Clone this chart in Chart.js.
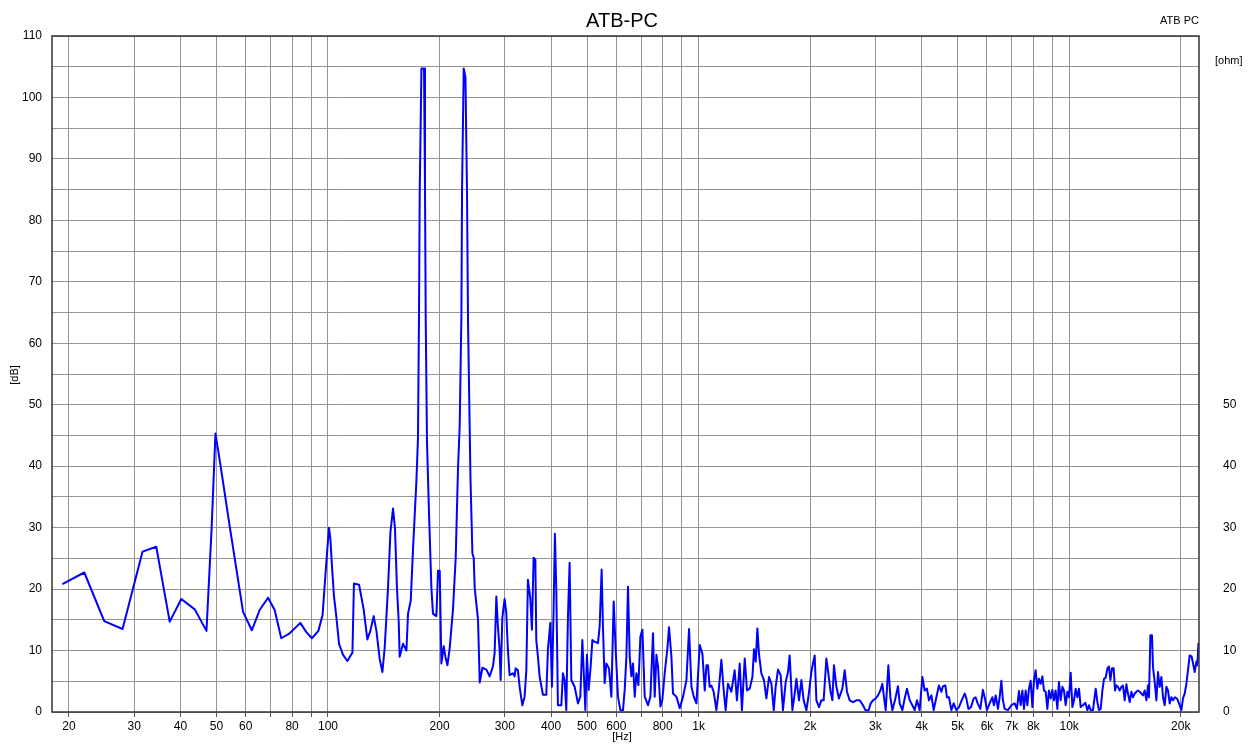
<!DOCTYPE html>
<html>
<head>
<meta charset="utf-8">
<script src="https://cdn.jsdelivr.net/npm/chart.js@4.4.0/dist/chart.umd.min.js"></script>
<style>
  html, body { margin: 0; padding: 0; background: #fff; }
  #wrap { width: 1250px; height: 744px; }
</style>
</head>
<body>
<div id="wrap"><canvas id="spectrum" width="1250" height="744"></canvas></div>
<script>
// frequency (Hz) and level (dB)
const freqHz = [
  19.2, 22.0, 24.9, 27.9, 31.6, 34.4, 37.4, 40.2, 43.7, 47.0, 48.5, 49.7, 50.5, 51.5, 54.3, 59.0,
  62.3, 65.4, 68.9, 71.8, 74.8, 78.8, 84.2, 87.4, 90.5, 94.2, 96.7, 98.6, 100.6, 101.5, 102.5, 103.8,
  105.4, 107.1, 109.8, 112.8, 116.4, 117.5, 121.3, 124.8, 127.7, 130.1, 132.8, 135.1, 137.9, 140.2, 142.2, 145.2,
  147.4, 149.8, 151.6, 153.5, 155.2, 156.1, 159.4, 162.8, 164.4, 167.2, 169.6, 173.2, 174.9, 176.0, 176.8, 178.7,
  181.6, 182.7, 183.5, 185.0, 187.3, 190.1, 192.0, 196.1, 198.1, 200.2, 202.3, 205.2, 207.4, 210.0, 213.0, 217.4,
  221.1, 224.3, 226.7, 229.1, 230.0, 232.4, 234.9, 237.2, 238.7, 242.3, 245.3, 247.3, 248.8, 254.0, 256.7, 261.0,
  267.6, 273.0, 278.6, 281.6, 284.6, 287.4, 290.5, 292.3, 295.4, 299.6, 302.8, 305.8, 309.1, 315.5, 318.8, 320.8,
  325.4, 328.9, 334.5, 339.3, 342.9, 346.3, 351.5, 355.0, 358.8, 362.6, 364.8, 368.5, 372.4, 380.1, 388.2, 392.1,
  398.0, 402.0, 406.2, 409.5, 413.1, 417.3, 426.2, 430.4, 435.0, 439.6, 444.0, 448.7, 453.5, 462.9, 472.6, 479.6,
  485.6, 490.5, 494.8, 499.7, 505.0, 511.4, 516.8, 522.0, 535.1, 540.8, 547.5, 552.0, 557.9, 563.8, 573.0, 581.6,
  590.0, 597.4, 606.0, 615.1, 625.2, 631.8, 638.5, 644.9, 651.8, 658.7, 665.3, 672.4, 679.5, 688.0, 696.6, 705.3,
  715.5, 730.3, 741.3, 753.3, 761.3, 769.4, 777.1, 788.8, 798.6, 810.1, 823.9, 832.1, 844.6, 853.0, 871.2, 889.4,
  907.9, 927.3, 942.4, 956.5, 970.3, 986.7,
  1007, 1024, 1039, 1050, 1060, 1071, 1083, 1098, 1117, 1133, 1152, 1169, 1183, 1200, 1226, 1251,
  1269, 1291, 1309, 1332, 1351, 1374, 1397, 1411, 1426, 1441, 1455, 1477, 1501, 1524, 1549, 1572,
  1595, 1614, 1638, 1665, 1689, 1718, 1743, 1761, 1791, 1817, 1836, 1866, 1894, 1921, 1954, 1978,
  2015, 2035, 2057, 2079, 2113, 2144, 2175, 2212, 2234, 2268, 2296, 2319, 2354, 2392, 2443, 2479,
  2514, 2557, 2610, 2665, 2721, 2777, 2819, 2877, 2913, 2955, 3005, 3048, 3094, 3132, 3164, 3198,
  3251, 3292, 3333, 3388, 3451, 3488, 3547, 3598, 3650, 3712, 3774, 3828, 3884, 3949, 4016, 4074,
  4132, 4184, 4247, 4308, 4381, 4452, 4520, 4565, 4633, 4679, 4738, 4809, 4879, 4961, 5042, 5127,
  5224, 5279, 5345, 5432, 5523, 5592, 5662, 5757, 5851, 5924, 5999,
  6100, 6204, 6265, 6333, 6423, 6492, 6561, 6626, 6697, 6836, 6982, 7126, 7229, 7319, 7397, 7476,
  7550, 7630, 7711, 7788, 7871, 7954, 8034, 8119, 8205, 8287, 8375, 8464, 8549, 8640, 8731, 8819,
  8912, 9007, 9097, 9193, 9291, 9384, 9484, 9585, 9680, 9783, 9887, 9986, 10092, 10200, 10302, 10411,
  10522, 10627, 10740, 10894, 11058, 11196, 11308, 11428, 11592, 11789, 11914, 12033, 12161, 12290, 12413, 12545,
  12678, 12805, 12917, 13046, 13184, 13291, 13407, 13541, 13685, 13830, 13969, 14117, 14267, 14409, 14562, 14717,
  14864, 15022, 15181, 15333, 15496, 15660, 15817, 15985, 16155, 16316, 16418, 16561, 16727, 16831, 17009, 17190,
  17362, 17546, 17732, 17910, 18100, 18292, 18475, 18671, 18869, 19058, 19296, 19537, 19781, 20078, 20279, 20494,
  20712, 20919, 21141, 21405, 21633, 21808, 22040, 22177, 22316, 22399
];
const levelDb = [
  20.8, 22.7, 14.8, 13.5, 26.1, 26.9, 14.7, 18.4, 16.7, 13.2, 29.6, 45.3, 42.7, 39.4, 30.2, 16.3,
  13.3, 16.6, 18.6, 16.6, 12.0, 12.8, 14.5, 13.0, 12.0, 13.2, 15.8, 23.0, 30.0, 28.2, 23.7, 18.8,
  15.3, 11.1, 9.3, 8.3, 9.7, 20.9, 20.7, 16.7, 11.8, 13.2, 15.6, 13.2, 8.6, 6.5, 10.4, 20.2,
  29.3, 33.1, 29.9, 20.2, 14.6, 9.0, 11.1, 10.0, 16.0, 18.1, 26.5, 37.6, 44.6, 64.2, 84.5, 104.7,
  104.7, 85.2, 64.2, 43.9, 32.4, 20.2, 16.0, 15.6, 23.0, 23.0, 7.9, 10.7, 9.0, 7.6, 10.4, 16.7,
  25.1, 39.7, 46.7, 64.9, 85.2, 104.7, 103.3, 84.5, 63.5, 38.3, 25.8, 25.1, 20.2, 15.0, 4.8, 7.2,
  6.9, 5.8, 7.4, 9.6, 18.8, 13.9, 10.1, 5.2, 15.3, 18.4, 16.1, 10.1, 6.0, 6.3, 5.8, 7.1,
  6.8, 4.1, 1.1, 2.5, 6.8, 21.5, 18.5, 13.4, 25.1, 24.8, 11.7, 9.0, 5.8, 2.8, 2.8, 10.1,
  14.5, 4.1, 16.6, 29.0, 19.9, 1.1, 1.1, 6.3, 5.2, 0.3, 15.3, 24.3, 5.2, 4.1, 1.4, 2.5,
  11.7, 5.8, 0.3, 9.3, 3.6, 7.4, 11.7, 11.5, 11.2, 13.9, 23.2, 13.9, 4.7, 7.9, 7.1, 2.5,
  18.0, 10.1, 2.5, 0.3, 0.3, 3.6, 9.0, 20.4, 9.0, 5.8, 7.9, 2.5, 6.3, 4.4, 12.3, 13.4,
  2.5, 1.1, 2.5, 12.8, 2.5, 9.3, 7.4, 0.9, 2.0, 6.3, 10.4, 13.8, 9.0, 3.0, 2.5, 0.6,
  2.5, 5.2, 13.5, 4.1, 2.5, 1.4,
  10.9, 9.5, 3.5, 7.6, 7.6, 4.1, 4.3, 3.3, 0.3, 3.5, 8.5, 3.5, 0.3, 4.6, 3.3, 6.8,
  1.9, 7.9, 0.3, 8.7, 3.5, 3.8, 5.7, 10.2, 8.2, 13.6, 9.5, 6.3, 5.2, 2.2, 5.7, 4.6,
  0.3, 4.1, 6.9, 6.0, 0.3, 4.9, 6.5, 9.2, 0.3, 3.0, 5.4, 1.9, 5.2, 1.9, 0.3, 2.4,
  6.5, 7.9, 9.2, 1.9, 0.8, 1.9, 1.9, 8.7, 6.8, 3.5, 1.9, 7.6, 4.1, 2.2, 3.8, 6.8,
  3.3, 1.9, 1.6, 1.9, 1.9, 1.1, 0.3, 0.3, 1.4, 1.9, 2.2, 2.7, 3.5, 4.6, 2.4, 0.3,
  7.6, 2.4, 0.3, 1.9, 4.2, 1.4, 0.3, 2.2, 3.8, 1.9, 1.1, 0.3, 1.9, 0.3, 5.7, 3.5,
  3.8, 1.9, 2.7, 0.3, 2.4, 4.3, 3.3, 4.2, 4.3, 2.4, 2.4, 0.3, 1.4, 0.3, 0.8, 1.9,
  3.0, 2.2, 0.5, 0.8, 2.2, 2.4, 1.4, 0.5, 3.6, 2.2, 0.3,
  1.4, 2.4, 1.1, 2.7, 0.5, 2.4, 5.1, 1.9, 0.5, 0.3, 1.1, 1.4, 0.5, 3.4, 1.1, 3.5,
  0.5, 3.5, 1.1, 3.8, 5.1, 0.8, 5.1, 6.8, 3.8, 5.4, 4.6, 5.8, 3.5, 3.3, 0.5, 3.5,
  2.2, 3.6, 1.9, 3.5, 0.5, 4.9, 1.9, 4.1, 3.5, 1.1, 3.3, 2.4, 6.4, 0.8, 1.9, 3.8,
  2.4, 3.8, 0.8, 1.1, 1.5, 0.3, 1.1, 0.3, 0.3, 3.8, 1.6, 0.3, 0.5, 3.5, 5.4, 5.6,
  7.1, 7.4, 5.2, 7.1, 7.1, 3.5, 4.3, 4.1, 3.5, 4.1, 4.3, 1.9, 4.5, 3.0, 1.6, 3.3,
  2.4, 3.0, 3.3, 3.5, 3.3, 3.0, 2.7, 3.5, 1.9, 4.3, 2.4, 12.5, 12.5, 7.3, 4.9, 1.9,
  6.5, 4.1, 5.7, 2.4, 1.1, 4.1, 3.5, 1.4, 2.4, 1.9, 2.4, 2.2, 1.4, 0.3, 2.2, 3.0,
  4.6, 6.8, 9.2, 9.0, 7.6, 6.5, 8.2, 7.6, 11.1, 10.9
];

const gridFreqs = [20, 30, 40, 50, 60, 70, 80, 90, 100, 200, 300, 400, 500, 600, 700, 800, 900,
  1000, 2000, 3000, 4000, 5000, 6000, 7000, 8000, 9000, 10000, 20000];
const labeledFreqs = [20, 30, 40, 50, 60, 80, 100, 200, 300, 400, 500, 600, 800,
  1000, 2000, 3000, 4000, 5000, 6000, 7000, 8000, 10000, 20000];
const dbLabels = [0, 10, 20, 30, 40, 50, 60, 70, 80, 90, 100, 110];
const ohmLabels = [0, 10, 20, 30, 40, 50];

const FONT = "'Liberation Sans', Arial, sans-serif";

const points = freqHz.map((f, i) => ({ x: f, y: levelDb[i] }));

function fmtHz(v) {
    return v >= 1000 ? (v / 1000) + "k" : String(v);
}

// frame and free text around the plot
const decorations = {
    id: "decorations",
    afterDraw(chart) {
        const ctx = chart.ctx;
        const a = chart.chartArea;
        ctx.save();
        ctx.strokeStyle = "#333";
        ctx.lineWidth = 1.5;
        ctx.strokeRect(a.left, a.top, a.right - a.left, a.bottom - a.top);

        ctx.fillStyle = "#000";
        ctx.textBaseline = "middle";
        ctx.textAlign = "center";
        ctx.font = "20px " + FONT;
        ctx.fillText("ATB-PC", 622, 21);

        ctx.font = "11px " + FONT;
        ctx.textAlign = "right";
        ctx.fillText("ATB PC", 1199, 21);
        ctx.textAlign = "left";
        ctx.fillText("[ohm]", 1215, 61);
        ctx.textAlign = "center";
        ctx.fillText("[Hz]", 622, 737);

        ctx.translate(15, 375);
        ctx.rotate(-Math.PI / 2);
        ctx.fillText("[dB]", 0, 0);
        ctx.restore();
    }
};

new Chart(document.getElementById("spectrum"), {
    type: "line",
    data: {
        datasets: [{
            data: points,
            borderColor: "#0000ff",
            borderWidth: 2,
            borderJoinStyle: "round",
            pointRadius: 0,
            tension: 0,
            fill: false
        }]
    },
    options: {
        responsive: false,
        animation: false,
        layout: { padding: { top: 36, left: 0, right: 0, bottom: 0 } },
        plugins: { legend: { display: false }, title: { display: false }, tooltip: { enabled: false } },
        scales: {
            x: {
                type: "logarithmic",
                min: 18,
                max: 22400,
                afterBuildTicks: (scale) => { scale.ticks = gridFreqs.map(v => ({ value: v })); },
                afterFit: (scale) => { scale.height = 32; },
                ticks: {
                    autoSkip: false,
                    maxRotation: 0,
                    padding: 2,
                    color: "#000",
                    font: { family: FONT, size: 12 },
                    callback: (v) => labeledFreqs.includes(v) ? fmtHz(v) : ""
                },
                grid: { color: "#959595", lineWidth: 1, tickLength: 5, tickColor: "#555" },
                border: { display: false }
            },
            y: {
                position: "left",
                min: 0,
                max: 110,
                afterFit: (scale) => { scale.width = 52; },
                ticks: {
                    stepSize: 5,
                    padding: 10,
                    color: "#000",
                    font: { family: FONT, size: 12 },
                    callback: (v) => dbLabels.includes(v) ? String(v) : ""
                },
                grid: { color: "#959595", lineWidth: 1, drawTicks: false },
                border: { display: false }
            },
            ohm: {
                position: "right",
                min: 0,
                max: 110,
                afterFit: (scale) => { scale.width = 51; },
                ticks: {
                    stepSize: 5,
                    padding: 24,
                    color: "#000",
                    font: { family: FONT, size: 12 },
                    callback: (v) => ohmLabels.includes(v) ? String(v) : ""
                },
                grid: { display: false, drawTicks: false },
                border: { display: false }
            }
        }
    },
    plugins: [decorations]
});
</script>
</body>
</html>
